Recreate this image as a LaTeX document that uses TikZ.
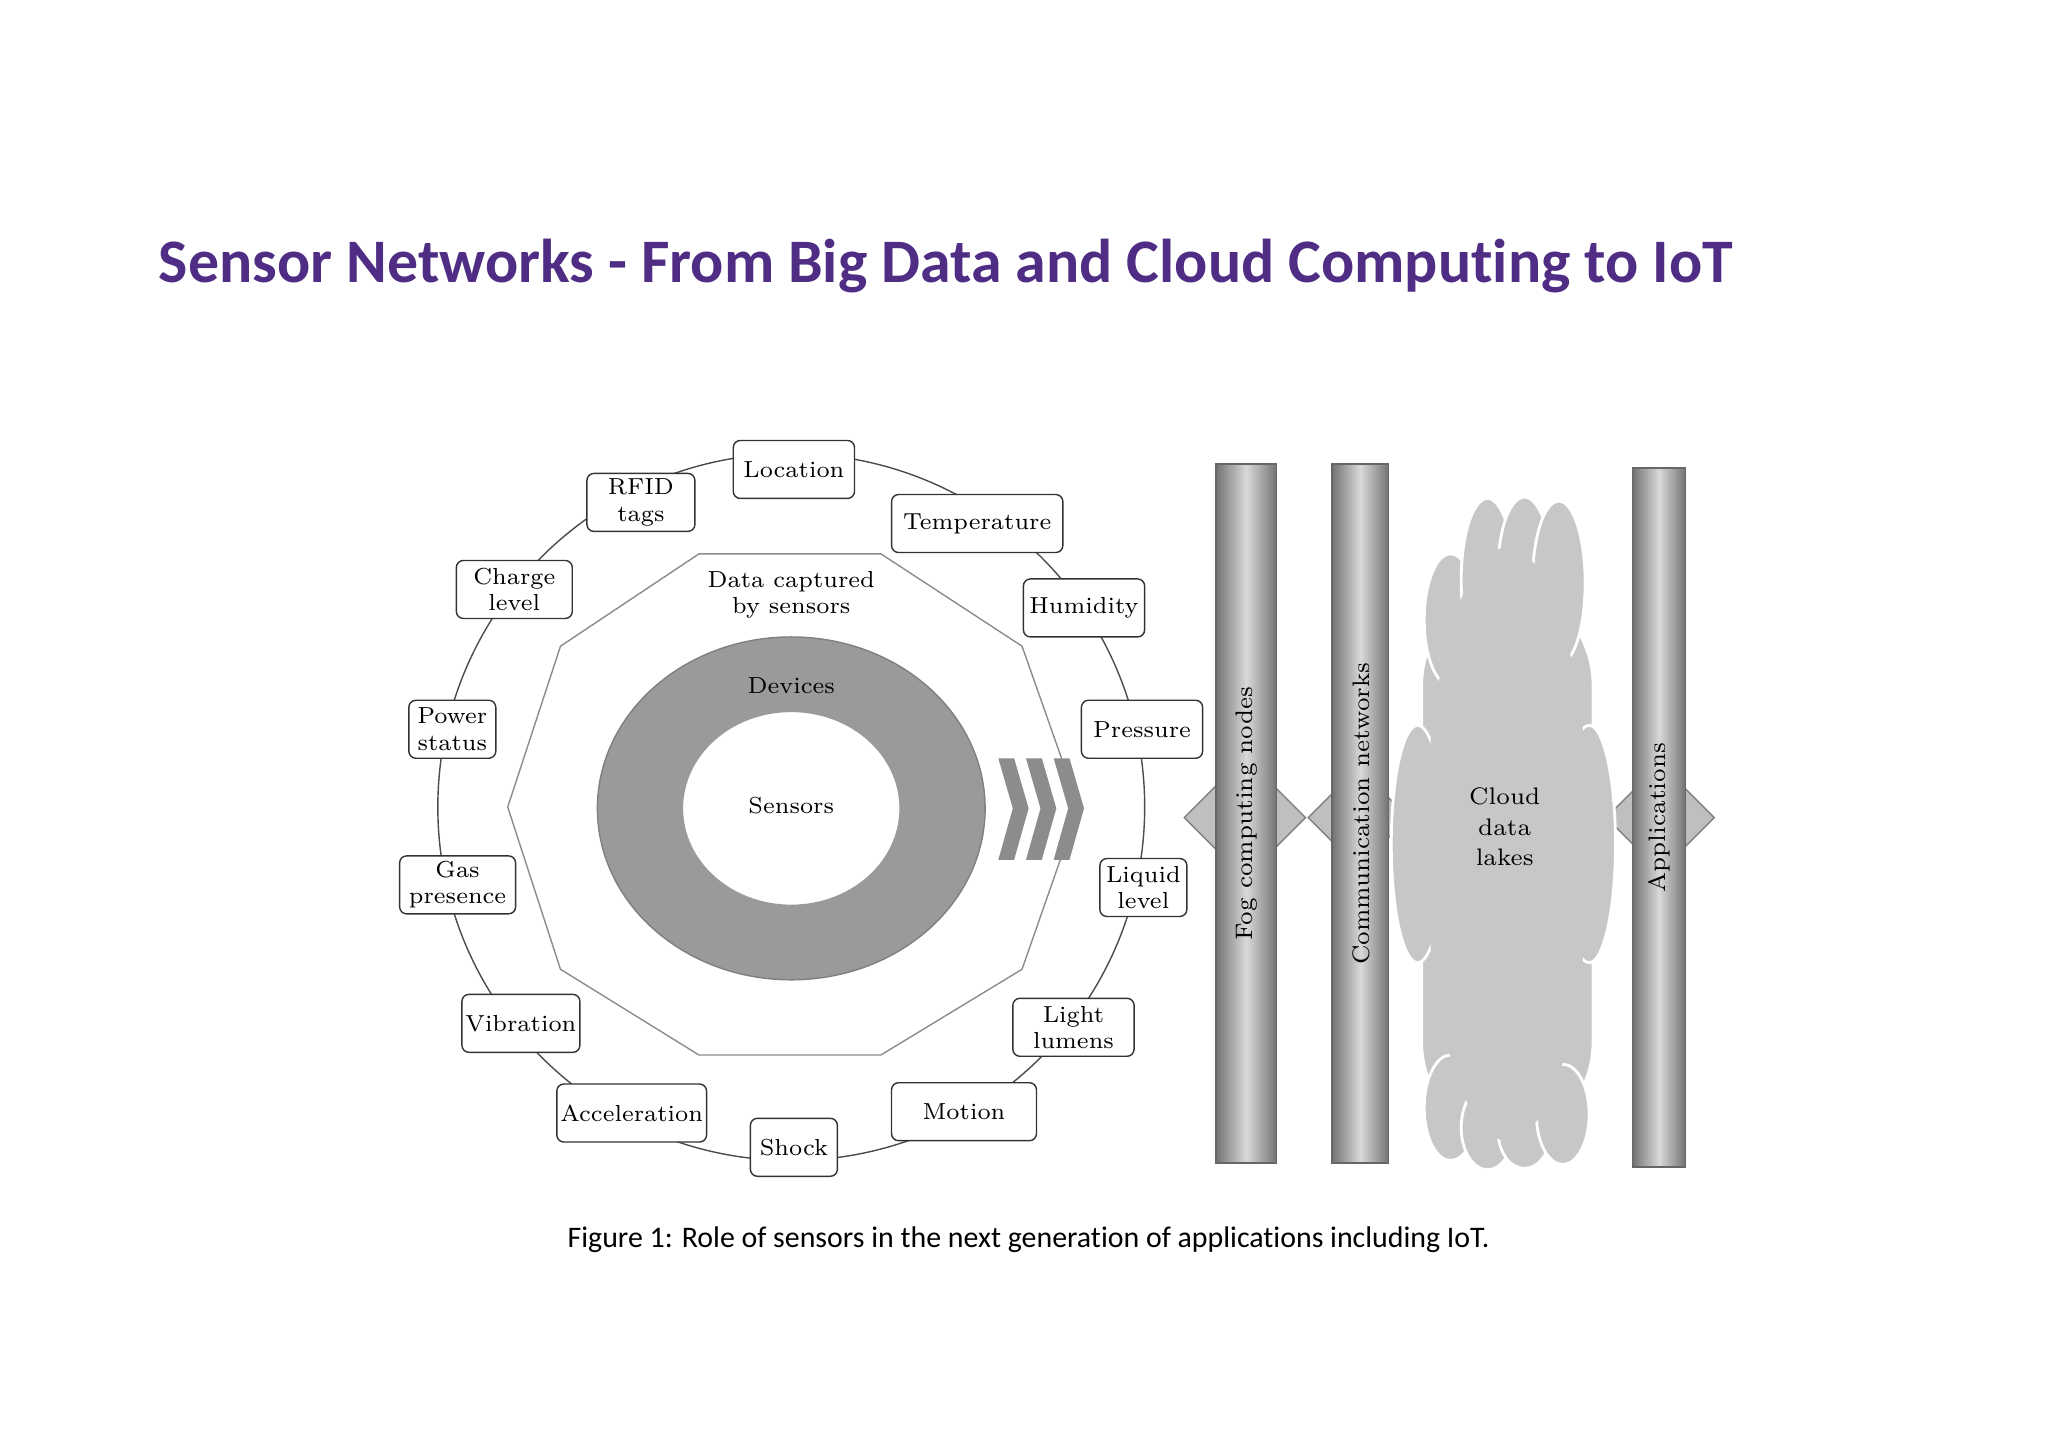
\documentclass[tikz,border=0pt]{standalone}
\usepackage{fontspec}
\newfontfamily\calibri{Carlito}[RawFeature={-liga;-dlig}]
\usetikzlibrary{shapes.arrows}
\definecolor{titlepurple}{HTML}{4F2D84}
\definecolor{ringgray}{HTML}{9A9A9A}
\tikzset{
  sensor/.style={draw=black!80, fill=white, rounded corners=2pt, align=center,
    font=\fontsize{6.6}{7.5}\selectfont, inner sep=1pt,
    minimum height=#1*0.3748pt},
  sensor/.default=44,
  bar/.style={draw=black!60, left color=black!55, right color=black!55, middle color=black!15},
  dblarrow/.style={double arrow, draw=black!50, fill=black!25, double arrow head extend=5pt,
    minimum height=#1*0.3748pt, minimum width=50*0.3748pt, inner sep=0pt},
  barlabel/.style={rotate=90, font=\fontsize{6.8}{8}\selectfont}
}
\begin{document}
\begin{tikzpicture}[x=0.013187cm, y=-0.013187cm]
   \useasboundingbox (0,0) rectangle (1553,1097);
   \node[anchor=base west, text=titlepurple, font=\calibri\bfseries\fontsize{17.6}{20}\selectfont, inner sep=0pt] (title) at (120,214) {Sensor Networks - From Big Data and Cloud Computing to IoT};
   % ring and sensors
   \draw[black!70] (600,612) circle [radius=268];
   \draw[black!45, fill=white] (530,420) -- (668,420) -- (775,490) -- (818,612) -- (775,735) -- (668,800) -- (530,800) -- (425,735) -- (385,612) -- (425,490) -- cycle;
   \fill[ringgray, even odd rule] (600,613) ellipse [x radius=147, y radius=130] (600,613) ellipse [x radius=82, y radius=73];
   \draw[black!50] (600,613) ellipse [x radius=147, y radius=130];
   \node[align=center, font=\fontsize{6.6}{7.5}\selectfont] (captured) at (600,451) {Data captured\\by sensors};
   \node[font=\fontsize{6.6}{7.5}\selectfont] (devices) at (600,520) {Devices};
   \node[font=\fontsize{6.6}{7.5}\selectfont] (sensors) at (600,611) {Sensors};
   \foreach \x in {757,778,799}
     \fill[black!45] (\x,575) -- (\x+12,575) -- (\x+23,613) -- (\x+12,652) -- (\x,652) -- (\x+11,613) -- cycle;
   \node[sensor, minimum width=92*0.3748pt] (location) at (602,356) {Location};
   \node[sensor, minimum width=130*0.3748pt] (temperature) at (741,397) {Temperature};
   \node[sensor, minimum width=92*0.3748pt] (humidity) at (822,461) {Humidity};
   \node[sensor, minimum width=92*0.3748pt] (pressure) at (866,553) {Pressure};
   \node[sensor, minimum width=66*0.3748pt] (liquid) at (867,673) {Liquid\\level};
   \node[sensor, minimum width=92*0.3748pt] (light) at (814,779) {Light\\lumens};
   \node[sensor, minimum width=110*0.3748pt] (motion) at (731,843) {Motion};
   \node[sensor, minimum width=66*0.3748pt] (shock) at (602,870) {Shock};
   \node[sensor, minimum width=110*0.3748pt] (acceleration) at (479,844) {Acceleration};
   \node[sensor, minimum width=88*0.3748pt] (vibration) at (395,776) {Vibration};
   \node[sensor, minimum width=88*0.3748pt] (gas) at (347,671) {Gas\\presence};
   \node[sensor, minimum width=66*0.3748pt] (power) at (343,553) {Power\\status};
   \node[sensor, minimum width=88*0.3748pt] (charge) at (390,447) {Charge\\level};
   \node[sensor, minimum width=82*0.3748pt] (rfid) at (486,381) {RFID\\tags};
   % layers
   \node[dblarrow=92] (fogarrow) at (944,620) {};
   \node[dblarrow=76] (commarrow) at (1030,620) {};
   \node[dblarrow=82] (apparrow) at (1259,620) {};
   \draw[bar] (922,352) rectangle (968,882);
   \draw[bar] (1010,352) rectangle (1053,882);
   \draw[bar] (1238,355) rectangle (1278,885);
   \node[barlabel] (fog) at (945,617) {Fog computing nodes};
   \node[barlabel] (comm) at (1032,617) {Communication networks};
   \node[barlabel] (apps) at (1258,620) {Applications};
   % cloud
   \begin{scope}[black!22, draw=white, thick]
     \filldraw[rounded corners=30] (1078,440) rectangle (1208,870);
     \foreach \cx/\cy/\ry in {1100/470/50,1128/440/62,1156/432/55,1182/442/62,1100/840/40,1128/855/32,1156/858/28,1185/845/38,1075/640/90,1205/640/90}
       \filldraw (\cx,\cy) ellipse [x radius=20, y radius=\ry];
     \fill (1143,640) ellipse [x radius=62, y radius=225];
   \end{scope}
   \node[align=center, font=\fontsize{6.8}{8.6}\selectfont] (lakes) at (1141,627) {Cloud\\data\\lakes};
   \node[font=\calibri\fontsize{8.5}{10}\selectfont] (caption) at (780,940) {Figure 1: Role of sensors in the next generation of applications including IoT.};
\end{tikzpicture}
\end{document}
